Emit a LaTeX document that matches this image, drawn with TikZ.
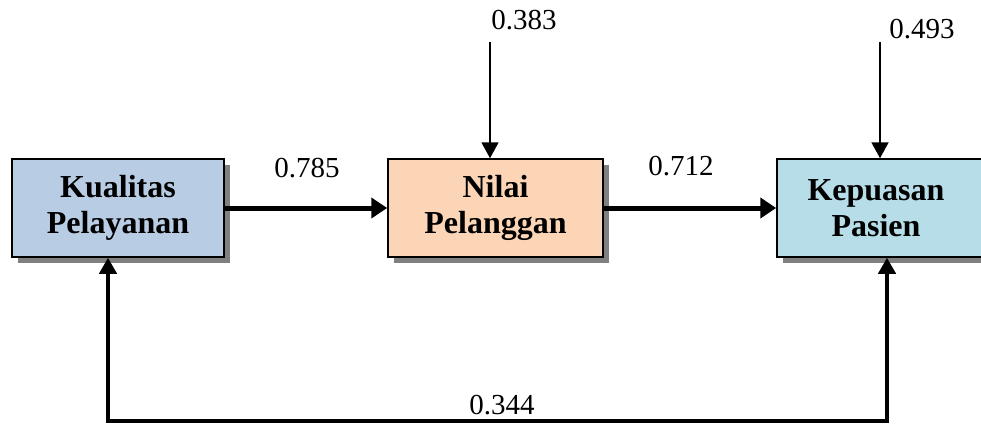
\documentclass[tikz,border=0pt]{standalone}
\usepackage{fontspec}
\setmainfont{Liberation Serif}
\usetikzlibrary{arrows.meta,shadows}
\definecolor{boxblue}{HTML}{B8CCE4}
\definecolor{boxpeach}{HTML}{FBD5B5}
\definecolor{boxcyan}{HTML}{B7DDE8}
\definecolor{shade}{HTML}{808080}
\tikzset{
  boxfont/.style={font=\fontsize{32}{36}\selectfont\bfseries},
  varbox/.style={draw=black, line width=1.5pt, minimum height=98pt, align=center,
    boxfont, inner sep=0pt,
    drop shadow={shadow xshift=6pt, shadow yshift=-6pt, fill=shade, opacity=1}},
  coef/.style={font=\fontsize{29}{32}\selectfont, inner sep=0pt},
  thickarrow/.style={line width=5pt, -{Triangle[length=16pt,width=20pt]}},
  bottomarrow/.style={line width=4pt, -{Triangle[length=16pt,width=17pt]}},
  thinarrow/.style={line width=1.8pt, -{Triangle[length=16pt,width=17pt]}},
}
\begin{document}
\begin{tikzpicture}[x=1pt,y=-1pt]
  \useasboundingbox (0,0) rectangle (981,425);
  \clip (0,0) rectangle (981,425);
  % the three variables
  \node[varbox, fill=boxblue, minimum width=212pt] (kp) at (118,208) {Kualitas\\Pelayanan};
  \node[varbox, fill=boxpeach, minimum width=215pt] (nl) at (495.5,208) {Nilai\\Pelanggan};
  \node[varbox, fill=boxcyan, minimum width=210pt] (ps) at (882,208) {};
  \node[boxfont, align=center, inner sep=0pt] (pst) at (876,208) {Kepuasan\\Pasien};
  % residual inputs
  \coordinate (rn) at (490,42);
  \coordinate (rp) at (880,42);
  \node[coef] (e1) at (524,20) {0.383};
  \node[coef] (e2) at (922,29) {0.493};
  \draw[thinarrow] (rn) -- (nl.north -| rn);
  \draw[thinarrow] (rp) -- (ps.north -| rp);
  % direct paths
  \draw[thickarrow] (kp.east) -- (nl.west);
  \draw[thickarrow] (nl.east) -- (ps.west);
  \node[coef] (c1) at (307,168) {0.785};
  \node[coef] (c2) at (681,166) {0.712};
  % path from service quality to patient satisfaction
  \coordinate (bl) at (108,421);
  \coordinate (br) at (887,421);
  \draw[bottomarrow] (br) -- (bl) -- (kp.south -| bl);
  \draw[bottomarrow] (bl) -- (br) -- (ps.south -| br);
  \node[coef] (c3) at (502,405) {0.344};
\end{tikzpicture}
\end{document}
